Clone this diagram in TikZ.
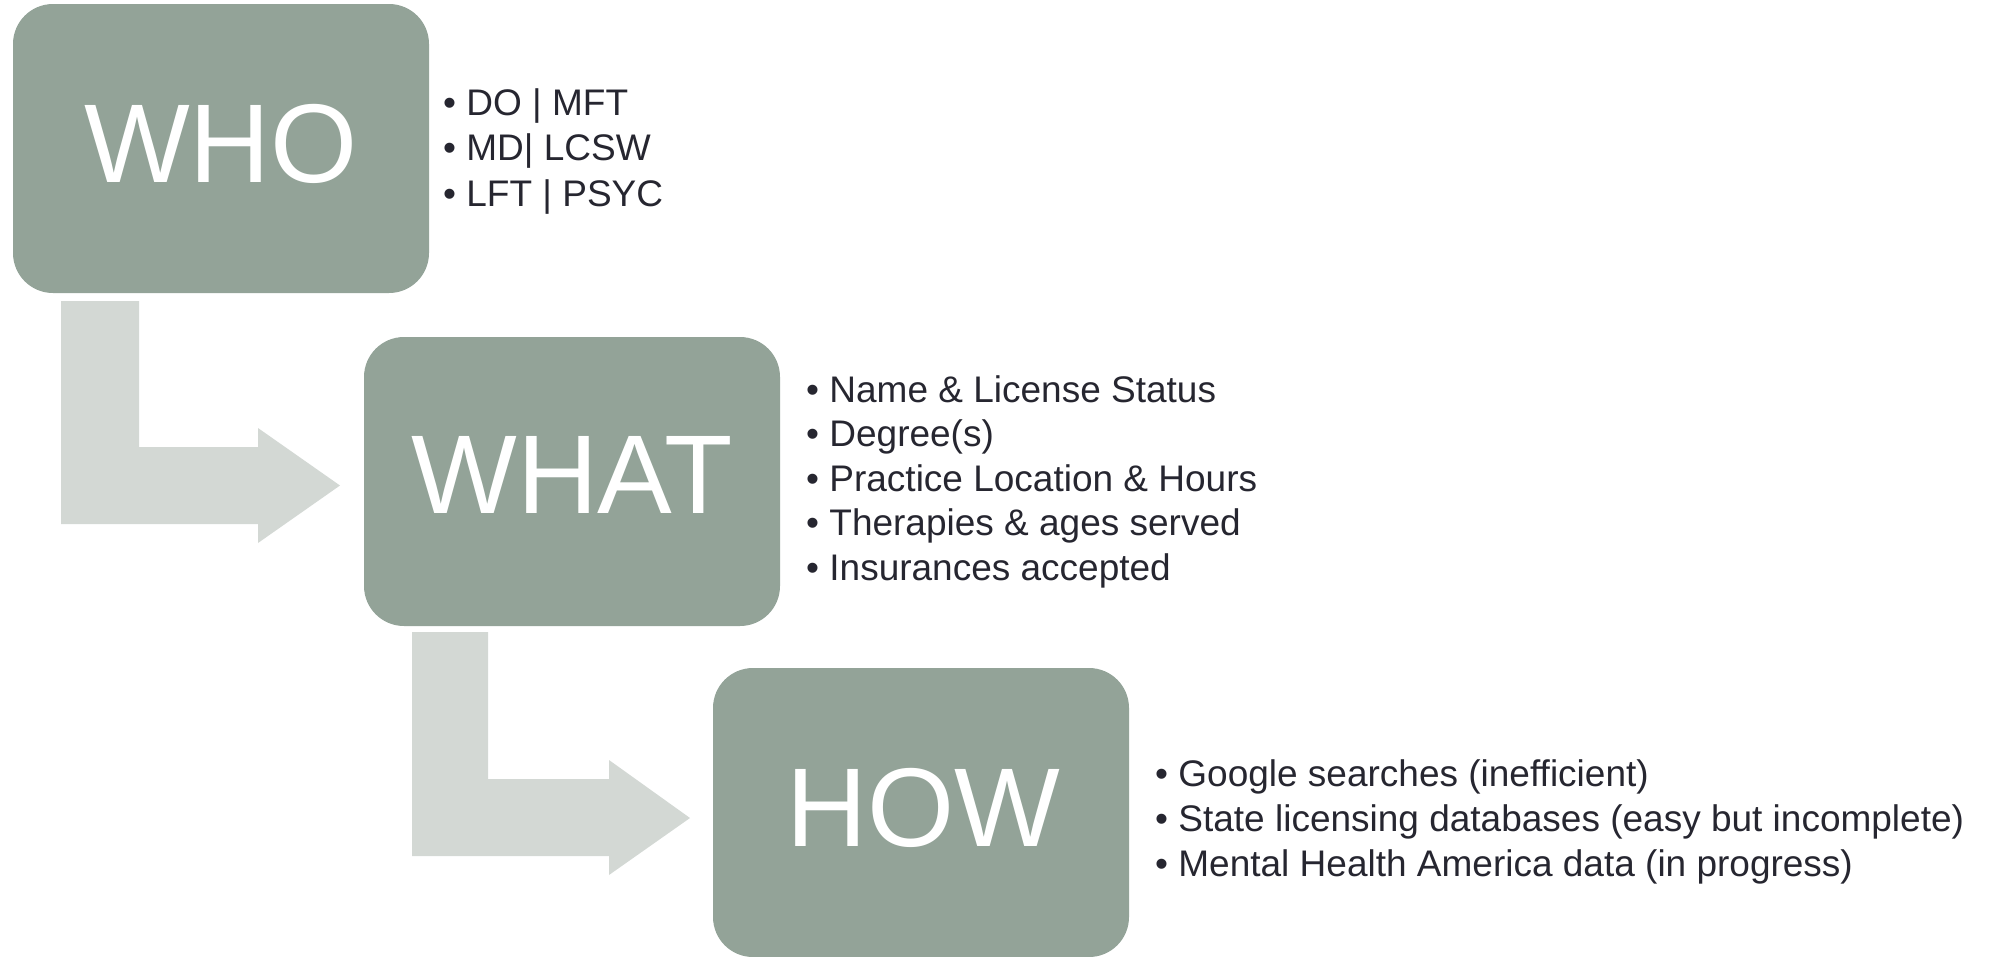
\documentclass[tikz,border=0pt]{standalone}
\usepackage{fontspec}
\setmainfont{Liberation Sans}
\definecolor{boxgreen}{HTML}{93A398}
\definecolor{arrowgray}{HTML}{D3D8D4}
\definecolor{itemtext}{HTML}{262630}
\tikzset{
  bigbox/.style={rectangle, rounded corners=40pt, fill=boxgreen, draw=none,
    minimum width=416pt, minimum height=289pt, inner sep=0pt},
  bigword/.style={text=white, inner sep=0pt, font=\fontsize{112}{114}\selectfont},
  item/.style={text=itemtext, inner sep=0pt, anchor=base west, font=\fontsize{37}{45}\selectfont},
  bentarrow/.style={fill=arrowgray, draw=none}
}
\begin{document}
\begin{tikzpicture}[x=1pt,y=-1pt]
\useasboundingbox (0,0) rectangle (2000,956);
% boxes
\node[bigbox] (who) at (221,148.5) {};
\node[bigbox] (what) at (572,481.5) {};
\node[bigbox] (how) at (921,812.5) {};
% big words
\node[bigword] (whot) at (221,144) {WHO};
\node[bigword] (whatt) at (572,475) {WHAT};
\node[bigword] (howt) at (923,807.5) {HOW};
% bent arrows
\fill[bentarrow] (61,301) -- (139,301) -- (139,447) -- (258,447) -- (258,428)
  -- (340,485.5) -- (258,543) -- (258,524) -- (61,524) -- cycle;
\fill[bentarrow] (412,632) -- (488,632) -- (488,779) -- (609,779) -- (609,760)
  -- (690,818) -- (609,875) -- (609,856) -- (412,856) -- cycle;
% WHO list
\node[item] (who1) at (443,115) {• DO | MFT};
\node[item] (who2) at (443,160.5) {• MD| LCSW};
\node[item] (who3) at (443,206) {• LFT | PSYC};
% WHAT list
\node[item] (what1) at (806,402) {• Name \& License Status};
\node[item] (what2) at (806,446.5) {• Degree(s)};
\node[item] (what3) at (806,491) {• Practice Location \& Hours};
\node[item] (what4) at (806,535.5) {• Therapies \& ages served};
\node[item] (what5) at (806,580) {• Insurances accepted};
% HOW list
\node[item] (how1) at (1155,786) {• Google searches (inefficient)};
\node[item] (how2) at (1155,831) {• State licensing databases (easy but incomplete)};
\node[item] (how3) at (1155,876) {• Mental Health America data (in progress)};
\end{tikzpicture}
\end{document}
